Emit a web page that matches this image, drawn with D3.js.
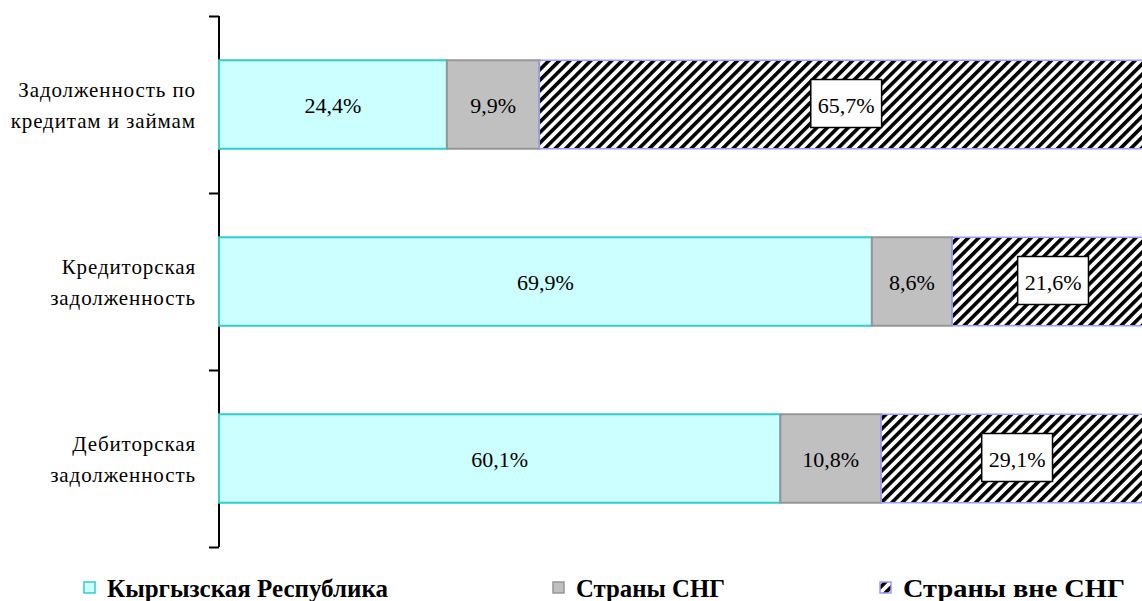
<!DOCTYPE html>
<html>
<head>
<meta charset="utf-8">
<script src="https://cdn.jsdelivr.net/npm/d3@7"></script>
<style>
  body { margin: 0; background: #fff; }
  svg { display: block; }
</style>
</head>
<body>
<div class="container"></div>
<script>
// Data
const categories = [
  ['Задолженность по', 'кредитам и займам'],
  ['Кредиторская', 'задолженность'],
  ['Дебиторская', 'задолженность'],
];
const seriesNames = ['Кыргызская Республика', 'Страны СНГ', 'Страны вне СНГ'];
const kyrgyz = [24.4, 69.9, 60.1];
const cis = [9.9, 8.6, 10.8];
const nonCis = [65.7, 21.6, 29.1];

const width = 1142;
const height = 601;
const serif = "'Liberation Serif', 'Times New Roman', serif";

const svg = d3
  .select('.container')
  .append('svg')
  .attr('width', width)
  .attr('height', height);

// hatch pattern
const defs = svg.append('defs');
const pattern = defs
  .append('pattern')
  .attr('id', 'hatch')
  .attr('patternUnits', 'userSpaceOnUse')
  .attr('width', 7.4)
  .attr('height', 7.4)
  .attr('patternTransform', 'rotate(45)');
pattern.append('rect').attr('width', 7.4).attr('height', 7.4).attr('fill', '#fff');
pattern
  .append('rect')
  .attr('x', 0)
  .attr('y', 0)
  .attr('width', 3.6)
  .attr('height', 7.4)
  .attr('fill', '#000');

const styles = [
  { fill: '#ccffff', stroke: '#33cccc', boxed: false },
  { fill: '#c0c0c0', stroke: '#969696', boxed: false },
  { fill: 'url(#hatch)', stroke: '#9999ff', boxed: true },
];

const x = d3.scaleLinear().domain([0, 100]).range([219, 1153]);
const y = d3
  .scaleBand()
  .domain(d3.range(categories.length))
  .range([16, 547])
  .paddingInner(0.5)
  .paddingOuter(0.25);

// Y axis
const yAxis = d3.scaleLinear().domain([0, 3]).range([16, 547]);
svg
  .append('g')
  .attr('transform', 'translate(219,0)')
  .call(d3.axisLeft(yAxis).ticks(3).tickSize(10).tickFormat(''))
  .call((g) => g.select('.domain').attr('d', 'M0,16V547').attr('stroke-width', 2))
  .call((g) => g.selectAll('.tick line').attr('stroke-width', 2));

// Category labels
categories.forEach((lines, i) => {
  const cy = y(i) + y.bandwidth() / 2;
  const t = svg
    .append('text')
    .attr('text-anchor', 'end')
    .attr('font-family', serif)
    .attr('font-size', 21)
    .attr('letter-spacing', 0.9)
    .attr('fill', '#000');
  lines.forEach((line, j) => {
    t.append('tspan')
      .attr('x', 196)
      .attr('y', cy - 8 + j * 31)
      .text(line);
  });
});

// Stack
const rows = categories.map((c, i) => [kyrgyz[i], cis[i], nonCis[i]]);
rows.forEach((vals, i) => {
  let acc = 0;
  vals.forEach((v, s) => {
    const x0 = x(acc);
    const x1 = x(acc + v);
    acc += v;
    const st = styles[s];
    svg
      .append('rect')
      .attr('x', x0)
      .attr('y', y(i))
      .attr('width', x1 - x0)
      .attr('height', y.bandwidth())
      .attr('fill', st.fill)
      .attr('stroke', st.stroke)
      .attr('stroke-width', s === 2 ? 1.5 : 2);

    const cx = (x0 + x1) / 2;
    const cy = y(i) + y.bandwidth() / 2;
    const label = v.toFixed(1).replace('.', ',') + '%';
    const g = svg.append('g');
    const txt = g
      .append('text')
      .attr('x', cx)
      .attr('y', cy + 8)
      .attr('text-anchor', 'middle')
      .attr('font-family', serif)
      .attr('font-size', 22)
      .attr('fill', '#000')
      .text(label);
    if (st.boxed) {
      const bb = txt.node().getBBox();
      g.insert('rect', 'text')
        .attr('x', cx - bb.width / 2 - 7)
        .attr('y', cy - 25)
        .attr('width', bb.width + 14)
        .attr('height', 48)
        .attr('fill', '#fff')
        .attr('stroke', '#000')
        .attr('stroke-width', 1.5);
    }
  });
});

// Legend
const legendX = [84, 553, 880];
const legendEnd = [388, 725, 1125];
const legend = svg.append('g').attr('id', 'legend');
seriesNames.forEach((name, s) => {
  const st = styles[s];
  legend
    .append('rect')
    .attr('x', legendX[s])
    .attr('y', 582)
    .attr('width', 11)
    .attr('height', 11)
    .attr('fill', st.fill)
    .attr('stroke', st.stroke)
    .attr('stroke-width', 1.5);
  legend
    .append('text')
    .attr('x', legendX[s] + 23)
    .attr('y', 597)
    .attr('font-family', serif)
    .attr('font-weight', 'bold')
    .attr('font-size', 25)
    .attr('textLength', legendEnd[s] - legendX[s] - 23)
    .attr('lengthAdjust', 'spacingAndGlyphs')
    .text(name);
});
</script>
</body>
</html>
